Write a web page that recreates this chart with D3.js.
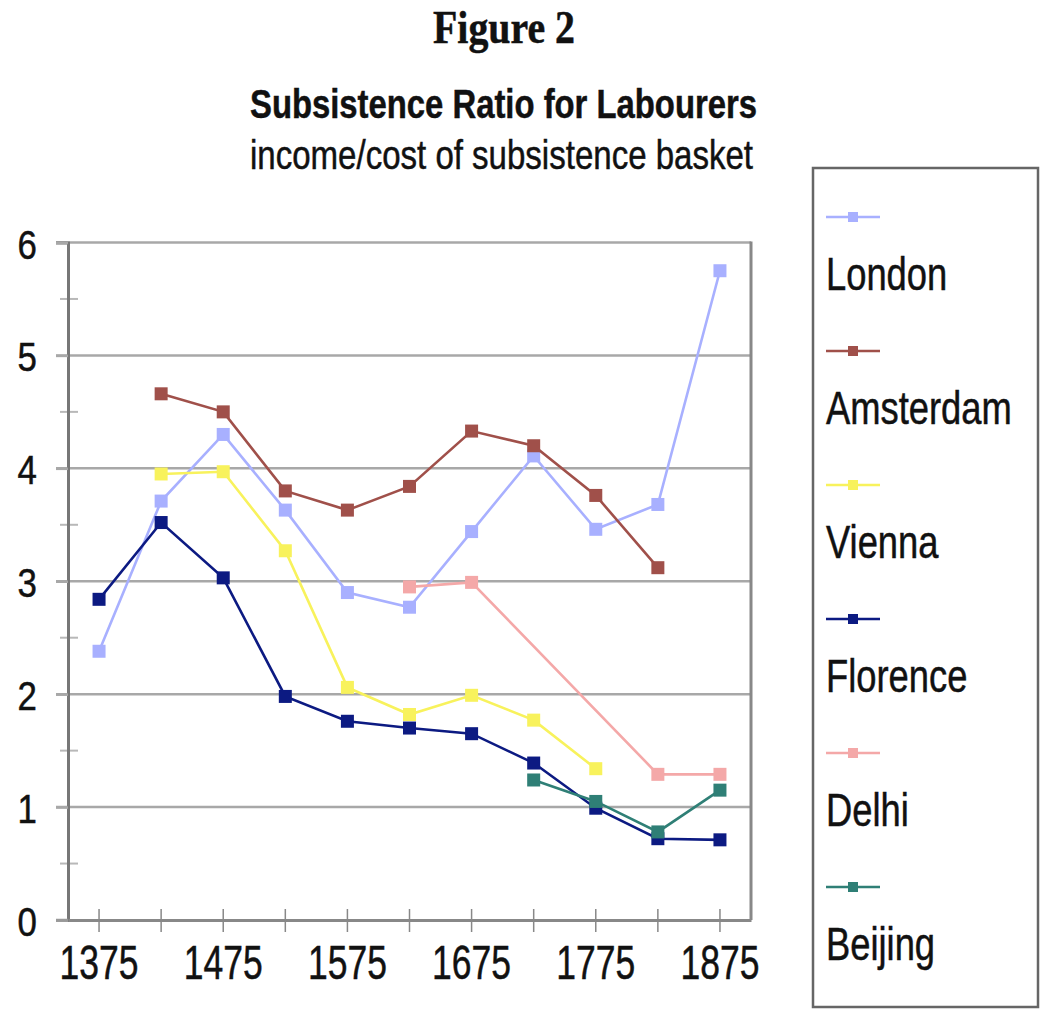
<!DOCTYPE html>
<html>
<head>
<meta charset="utf-8">
<script src="https://cdn.jsdelivr.net/npm/d3@7"></script>
<style>
  body { margin: 0; background: #fff; }
  text { font-family: "Liberation Sans", Arial, sans-serif; fill: #111; stroke: #111; stroke-width: 0.5px; }
</style>
</head>
<body>
<script>
// chart values
let years = [1375, 1425, 1475, 1525, 1575, 1625, 1675, 1725, 1775, 1825, 1875]
let yearLabels = [1375, 1475, 1575, 1675, 1775, 1875]
let yTicks = [0, 1, 2, 3, 4, 5, 6]

let cities = ['London', 'Amsterdam', 'Vienna', 'Florence', 'Delhi', 'Beijing']
let colors = ['#a8b0ff', '#a0504a', '#f8f25c', '#0c1a82', '#f4a8a8', '#2f7f76']

let london    = [2.38, 3.71, 4.30, 3.63, 2.90, 2.77, 3.44, 4.11, 3.46, 3.68, 5.75]
let amsterdam = [null, 4.66, 4.50, 3.80, 3.63, 3.84, 4.33, 4.20, 3.76, 3.12, null]
let vienna    = [null, 3.95, 3.97, 3.27, 2.06, 1.82, 1.99, 1.77, 1.34, null, null]
let florence  = [2.84, 3.52, 3.03, 1.98, 1.76, 1.70, 1.65, 1.39, 0.99, 0.72, 0.71]
let delhi     = [null, null, null, null, null, 2.95, 2.99, null, null, 1.29, 1.29]
let beijing   = [null, null, null, null, null, null, null, 1.24, 1.05, 0.78, 1.15]

let series = [london, amsterdam, vienna, florence, delhi, beijing]

let width = 1041
let height = 1010
let plotLeft = 68, plotRight = 751, plotTop = 242.5, plotBottom = 920

let svg = d3.select('body')
    .append('svg')
    .attr('width', width)
    .attr('height', height)

// titles
svg.append('text')
    .attr('x', 433).attr('y', 43)
    .attr('textLength', 142).attr('lengthAdjust', 'spacingAndGlyphs')
    .style('font-family', '"Liberation Serif", "Times New Roman", serif')
    .style('font-weight', 'bold').style('font-size', '46px')
    .text('Figure 2')

svg.append('text')
    .attr('x', 250).attr('y', 118)
    .attr('textLength', 507).attr('lengthAdjust', 'spacingAndGlyphs')
    .style('font-weight', 'bold').style('font-size', '41px')
    .text('Subsistence Ratio for Labourers')

svg.append('text')
    .attr('x', 250).attr('y', 169)
    .attr('textLength', 503).attr('lengthAdjust', 'spacingAndGlyphs')
    .style('font-size', '41px')
    .text('income/cost of subsistence basket')

let xScale = d3.scaleBand()
    .domain(years)
    .range([plotLeft, plotRight])
    .padding(0)

let yScale = d3.scaleLinear()
    .domain([0, 6])
    .range([plotBottom, plotTop])

let cx = y => xScale(y) + xScale.bandwidth() / 2

// gridlines + major ticks
svg.append('g')
    .selectAll('line')
    .data(yTicks.filter(d => d > 0))
    .enter().append('line')
    .attr('x1', 56).attr('x2', plotRight)
    .attr('y1', d => yScale(d)).attr('y2', d => yScale(d))
    .attr('stroke', '#a8a8a8')
    .attr('stroke-width', 2.5)

// minor ticks on y axis
svg.append('g')
    .selectAll('line')
    .data(d3.range(0.5, 6, 1))
    .enter().append('line')
    .attr('x1', 60).attr('x2', 78)
    .attr('y1', d => yScale(d)).attr('y2', d => yScale(d))
    .attr('stroke', '#b8b8b8')
    .attr('stroke-width', 2)

// frame: right side
svg.append('line')
    .attr('x1', plotRight).attr('x2', plotRight)
    .attr('y1', plotTop - 1).attr('y2', plotBottom)
    .attr('stroke', '#888').attr('stroke-width', 3)

// y axis
let yAxis = d3.axisLeft(yScale)
    .tickValues(yTicks)
    .tickSize(12)
    .tickFormat('')

svg.append('g')
    .attr('transform', 'translate(' + plotLeft + ',0)')
    .call(yAxis)
    .call(g => g.select('.domain').attr('stroke', '#777').attr('stroke-width', 3))
    .call(g => g.selectAll('.tick line').attr('stroke', '#a8a8a8').attr('stroke-width', 2.5))

// x axis
let xAxis = d3.axisBottom(xScale)
    .tickSize(12)
    .tickSizeOuter(0)
    .tickFormat('')

svg.append('g')
    .attr('transform', 'translate(0,' + plotBottom + ')')
    .call(xAxis)
    .call(g => g.select('.domain').attr('stroke', '#888').attr('stroke-width', 3))
    .call(g => g.selectAll('.tick line').attr('y1', -11).attr('stroke', '#888').attr('stroke-width', 1.5))

// 0 line on left stub
svg.append('line')
    .attr('x1', 56).attr('x2', plotLeft)
    .attr('y1', plotBottom).attr('y2', plotBottom)
    .attr('stroke', '#999').attr('stroke-width', 2.5)

// y tick labels
svg.append('g')
    .selectAll('text')
    .data(yTicks)
    .enter().append('text')
    .attr('transform', d => 'translate(37,' + (yScale(d) + 16) + ') scale(0.85,1)')
    .attr('text-anchor', 'end')
    .style('font-size', '41px')
    .text(d => d)

// x tick labels
svg.append('g')
    .selectAll('text')
    .data(yearLabels)
    .enter().append('text')
    .attr('transform', d => 'translate(' + cx(d) + ',979) scale(0.74,1)')
    .attr('text-anchor', 'middle')
    .style('font-size', '48px')
    .text(d => d)

// lines and markers
let line = d3.line()
    .x(d => cx(d.year))
    .y(d => yScale(d.value))

series.forEach((values, i) => {
    let pts = years.map((y, j) => ({year: y, value: values[j]}))
        .filter(d => d.value != null)

    svg.append('path')
        .datum(pts)
        .attr('d', line)
        .attr('fill', 'none')
        .attr('stroke', colors[i])
        .attr('stroke-width', 2.6)

    svg.append('g')
        .selectAll('rect')
        .data(pts)
        .enter().append('rect')
        .attr('x', d => cx(d.year) - 6.5)
        .attr('y', d => yScale(d.value) - 6.5)
        .attr('width', 13)
        .attr('height', 13)
        .attr('fill', colors[i])
})

// legend
svg.append('rect')
    .attr('x', 813).attr('y', 168)
    .attr('width', 225).attr('height', 839)
    .attr('fill', 'none')
    .attr('stroke', '#666')
    .attr('stroke-width', 2.5)

let legend = svg.append('g')
    .selectAll('g')
    .data(cities)
    .enter().append('g')
    .attr('transform', (d, i) => 'translate(0,' + (i * 134) + ')')

legend.append('line')
    .attr('x1', 826).attr('x2', 880)
    .attr('y1', 217).attr('y2', 217)
    .attr('stroke', (d, i) => colors[i])
    .attr('stroke-width', 2.5)

legend.append('rect')
    .attr('x', 848).attr('y', 212)
    .attr('width', 10).attr('height', 10)
    .attr('fill', (d, i) => colors[i])

legend.append('text')
    .attr('transform', 'translate(826,290) scale(0.79,1)')
    .style('font-size', '46px')
    .text(d => d)
</script>
</body>
</html>
